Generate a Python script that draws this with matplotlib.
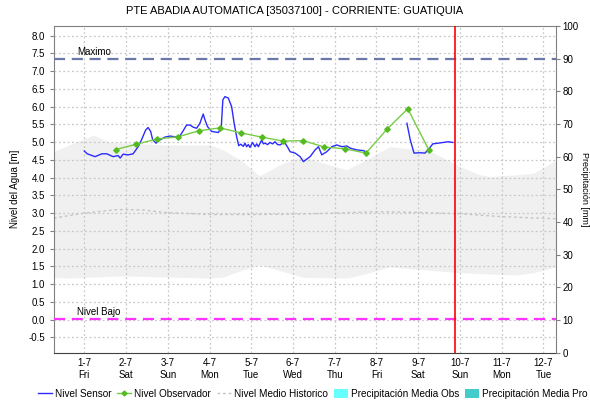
import numpy as np
import matplotlib
matplotlib.use("Agg")
import matplotlib.pyplot as plt
from matplotlib.lines import Line2D
from matplotlib.patches import Patch

plt.rcParams['font.family'] = ['Liberation Sans', 'DejaVu Sans']

# ---- data (x in days of July 2016) ----
day_ticks = [1, 2, 3, 4, 5, 6, 7, 8, 9, 10, 11, 12]
day_labels = ["1-7\nFri", "2-7\nSat", "3-7\nSun", "4-7\nMon", "5-7\nTue", "6-7\nWed",
              "7-7\nThu", "8-7\nFri", "9-7\nSat", "10-7\nSun", "11-7\nMon", "12-7\nTue"]

sensor_x = [1.00, 1.07, 1.26, 1.42, 1.54, 1.69, 1.81, 1.86, 1.93, 2.05, 2.17, 2.29, 2.37,
            2.47, 2.53, 2.59, 2.64, 2.72, 2.81, 2.93, 3.05, 3.17, 3.29, 3.37, 3.45, 3.53,
            3.61, 3.69, 3.77, 3.85, 3.89, 3.95, 4.05, 4.21, 4.28, 4.32, 4.37, 4.45, 4.53,
            4.59, 4.65, 4.70, 4.75, 4.81, 4.85, 4.89, 4.93, 4.97, 5.03, 5.09, 5.13, 5.17,
            5.25, 5.29, 5.33, 5.39, 5.45, 5.51, 5.57, 5.63, 5.69, 5.75, 5.81, 5.87, 5.93,
            6.05, 6.17, 6.25, 6.33, 6.41, 6.53, 6.61, 6.69, 6.81, 6.93, 7.05, 7.17, 7.29,
            7.37, 7.53, 7.69, 7.77,
            7.78,
            8.73, 8.81, 8.90, 9.04, 9.16, 9.24, 9.35, 9.48, 9.60, 9.72, 9.83]
sensor_y = [4.75, 4.67, 4.59, 4.67, 4.67, 4.59, 4.62, 4.55, 4.66, 4.64, 4.67, 4.87, 5.06,
            5.34, 5.41, 5.30, 5.06, 4.97, 5.06, 5.14, 5.17, 5.15, 5.17, 5.32, 5.48, 5.48,
            5.42, 5.39, 5.53, 5.79, 5.63, 5.44, 5.30, 5.27, 5.39, 6.19, 6.28, 6.24, 6.00,
            5.53, 5.15, 4.90, 4.94, 4.88, 4.97, 4.87, 4.93, 4.85, 4.99, 4.87, 4.95, 4.87,
            5.06, 4.95, 4.97, 4.93, 4.99, 4.95, 5.01, 4.93, 4.92, 4.97, 4.97, 4.86, 4.73,
            4.69, 4.59, 4.45, 4.52, 4.59, 4.78, 4.87, 4.64, 4.73, 4.87, 4.92, 4.87, 4.89,
            4.83, 4.78, 4.76, 4.70,
            np.nan,
            5.53, 5.06, 4.69, 4.70, 4.69, 4.78, 4.95, 4.97, 4.99, 5.01, 4.99]

obs_x = [1.75, 2.25, 2.75, 3.25, 3.75, 4.25, 4.75, 5.25, 5.75, 6.25, 6.75, 7.25,
         7.75, 8.25, 8.75, 9.25]
obs_y = [4.79, 4.94, 5.09, 5.15, 5.32, 5.40, 5.26, 5.14, 5.03, 5.04, 4.86, 4.81,
         4.69, 5.36, 5.94, 4.79]

band_x = [0.27, 0.60, 1.22, 1.62, 2.02, 2.97, 4.01, 4.33, 4.80, 5.20, 5.77, 6.25,
          6.73, 7.29, 7.77, 8.33, 8.65, 9.20, 10.00, 10.48, 10.72, 11.36, 11.76, 12.30]
band_hi = [4.73, 4.90, 5.20, 4.99, 4.97, 4.92, 4.92, 4.78, 4.45, 4.05, 4.41, 4.59,
           4.41, 4.22, 4.52, 4.87, 4.83, 4.80, 4.31, 4.08, 4.03, 4.08, 4.12, 4.48]
band_lo = [1.19, 1.17, 1.20, 1.22, 1.23, 1.20, 1.17, 1.20, 1.40, 1.54, 1.35, 1.19,
           1.18, 1.17, 1.30, 1.49, 1.45, 1.40, 1.32, 1.30, 1.28, 1.26, 1.32, 1.49]

hist_x = [0.27, 1.00, 1.80, 2.40, 2.90, 4.00, 5.00, 6.00, 7.00, 8.00, 9.00, 10.00,
          11.00, 12.30]
hist_y = [2.86, 3.00, 3.10, 3.09, 3.02, 2.96, 2.96, 2.97, 3.00, 3.04, 3.02, 2.98,
          2.90, 2.84]

nivel_maximo = 7.35
nivel_bajo = 0.03
now_x = 9.87

# ---- figure ----
fig = plt.figure(figsize=(5.9, 4.03), dpi=100)
ax = fig.add_axes([0.0915, 0.125, 0.8505, 0.8105])
ax.set_xlim(0.274, 12.296)
ax.set_ylim(-0.93, 8.27)

ax.fill_between(band_x, band_lo, band_hi, color='#f0f0f0', lw=0, zorder=1)
ax.plot(hist_x, hist_y, color='#c4c4c4', lw=1.0, ls=(0, (2, 2)), zorder=2)

ax.set_yticks(np.arange(-0.5, 8.01, 0.5))
ax.set_yticklabels([f"{v:.1f}" for v in np.arange(-0.5, 8.01, 0.5)])
ax.set_xticks(day_ticks)
ax.set_xticklabels(day_labels)
ax.grid(True, color='#c8c8c8', ls=(0, (1.5, 2)), lw=0.9, zorder=1.5)
ax.set_axisbelow(False)

ax.axhline(nivel_maximo, color='#6a78a8', lw=1.6, ls=(0, (5, 3)), zorder=3)
ax.axhline(nivel_bajo, color='#ff33ff', lw=1.6, ls=(0, (5, 3)), zorder=3)
ax.text(0.82, nivel_maximo + 0.04, "Maximo", fontsize=7, va='bottom', ha='left')
ax.text(0.82, nivel_bajo + 0.04, "Nivel Bajo", fontsize=7, va='bottom', ha='left')

ax.plot(sensor_x, sensor_y, color='#2b2bff', lw=1.0, zorder=4)
ax.plot(obs_x, obs_y, color='#77cc44', lw=1.0, marker='D', ms=2.8,
        mfc='#55bb22', mec='#55bb22', zorder=5)
ax.axvline(now_x, color='#ff0000', lw=1.2, zorder=6)

for s in ax.spines.values():
    s.set_color('#808080')
ax.spines['bottom'].set_color('#404040')
ax.spines['bottom'].set_linestyle((0, (1, 1)))
ax.tick_params(axis='both', labelsize=7, colors='#000000', length=3, color='#808080')
ax.tick_params(axis='x', length=0, pad=4)
ax.set_ylabel("Nivel del Agua [m]", fontsize=7, labelpad=6)

ax2 = ax.twinx()
ax2.set_ylim(0, 100)
ax2.set_yticks(np.arange(0, 101, 10))
ax2.tick_params(axis='y', labelsize=7, length=3, color='#808080', pad=2)
ax2.set_ylabel("Precipitación [mm]", fontsize=6.5, rotation=270, labelpad=7)
for s in ax2.spines.values():
    s.set_visible(False)

fig.suptitle("PTE ABADIA AUTOMATICA [35037100] - CORRIENTE: GUATIQUIA",
             fontsize=8, y=0.985)

handles = [
    Line2D([], [], color='#2b2bff', lw=1.0),
    Line2D([], [], color='#77cc44', lw=1.0, marker='D', ms=2.5, mfc='#55bb22', mec='#55bb22'),
    Line2D([], [], color='#c4c4c4', lw=1.0, ls=(0, (2, 2))),
    Patch(facecolor='#66ffff', edgecolor='none'),
    Patch(facecolor='#44cccc', edgecolor='none'),
]
labels = ["Nivel Sensor", "Nivel Observador", "Nivel Medio Historico",
          "Precipitación Media Obs", "Precipitación Media Pro"]
fig.legend(handles, labels, loc='lower center', ncol=5, frameon=False, fontsize=7.2,
           bbox_to_anchor=(0.53, -0.012), handlelength=1.4, handletextpad=0.3,
           columnspacing=0.6, handleheight=0.9)

fig.savefig("out.png", dpi=100)
